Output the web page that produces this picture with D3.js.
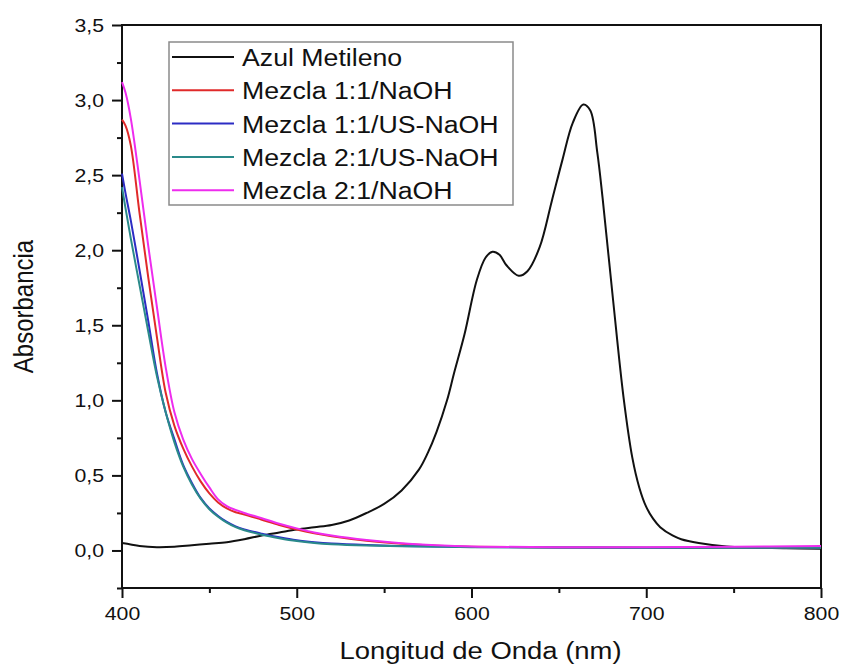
<!DOCTYPE html>
<html>
<head>
<meta charset="utf-8">
<script src="https://cdn.jsdelivr.net/npm/d3@7"></script>
<style>
	body { margin: 0; background: #fff; }
	text { font-family: "Liberation Sans", Arial, sans-serif; fill: #111; }
</style>
</head>
<body>
<div id="chart"></div>
<script>
'use strict'

// Azul de metileno (espectro propio)
var lambdaAzul = [400,405,410,420,430,440,450,460,470,480,490,500,510,520,530,540,550,560,570,575,580,586,590,596,603,608,612,616,620,627,632,639,646,652,658,664,668,672,675,681,687,692,696,700,704,708,715,720,730,746,760,780,800];
var absAzul = [0.05,0.04,0.03,0.022,0.025,0.035,0.045,0.055,0.075,0.1,0.12,0.14,0.155,0.17,0.2,0.25,0.31,0.4,0.54,0.65,0.79,1.0,1.18,1.44,1.8,1.95,1.99,1.97,1.9,1.83,1.86,2.02,2.33,2.6,2.85,2.97,2.93,2.65,2.35,1.67,1.02,0.62,0.42,0.29,0.21,0.155,0.1,0.075,0.05,0.027,0.02,0.015,0.012];

// Mezclas (misma rejilla de longitudes de onda)
var lambdaMezcla = [400,402,405,410,415,420,425,430,435,440,445,450,455,460,465,470,480,490,500,510,520,540,560,580,600,650,700,750,800];
var absM11NaOH = [2.87,2.83,2.7,2.25,1.82,1.42,1.05,0.83,0.68,0.56,0.46,0.38,0.32,0.28,0.255,0.24,0.205,0.17,0.14,0.115,0.095,0.065,0.045,0.032,0.025,0.02,0.018,0.018,0.02];
var absM11US = [2.51,2.38,2.2,1.87,1.53,1.18,0.92,0.74,0.57,0.45,0.35,0.28,0.23,0.19,0.16,0.14,0.112,0.088,0.068,0.055,0.046,0.036,0.03,0.026,0.023,0.02,0.018,0.02,0.02];
var absM21US = [2.42,2.28,2.08,1.77,1.46,1.16,0.92,0.72,0.56,0.44,0.345,0.275,0.225,0.185,0.155,0.135,0.105,0.082,0.063,0.05,0.042,0.033,0.028,0.025,0.022,0.02,0.018,0.018,0.018];
var absM21NaOH = [3.12,3.05,2.88,2.47,2.03,1.62,1.22,0.92,0.74,0.61,0.51,0.42,0.34,0.295,0.27,0.25,0.215,0.178,0.147,0.12,0.1,0.07,0.048,0.035,0.027,0.022,0.022,0.025,0.03];

var nombres = ["Azul Metileno", "Mezcla 1:1/NaOH", "Mezcla 1:1/US-NaOH", "Mezcla 2:1/US-NaOH", "Mezcla 2:1/NaOH"];
var colores = ["#111111", "#e02a2a", "#2c2cc4", "#2a8a8a", "#ee2cee"];

var xTicks = [400, 500, 600, 700, 800];
var yTicks = [0, 0.5, 1, 1.5, 2, 2.5, 3, 3.5];

var series = [
	{ x: lambdaAzul, y: absAzul },
	{ x: lambdaMezcla, y: absM11NaOH },
	{ x: lambdaMezcla, y: absM11US },
	{ x: lambdaMezcla, y: absM21US },
	{ x: lambdaMezcla, y: absM21NaOH }
];

var width = 841, height = 671;
var margin = { top: 25, right: 20, bottom: 83, left: 122 };
var sx = 1.12; // texto algo ensanchado como en la figura original

var svg = d3.select("#chart")
	.append("svg")
	.attr("width", width)
	.attr("height", height);

var x = d3.scaleLinear().domain([400, 800]).range([margin.left, width - margin.right]);
var y = d3.scaleLinear().domain([-0.25, 3.5]).range([height - margin.bottom, margin.top]);

var fmt = function(d){ return d3.format(".1f")(d).replace(".", ","); };

// Ejes: ticks menores
svg.append("g")
	.attr("transform", "translate(0," + y.range()[0] + ")")
	.call(d3.axisBottom(x).tickValues(d3.range(450, 800, 100)).tickSize(5).tickFormat(""))
	.call(g => g.select(".domain").remove())
	.selectAll("line").attr("stroke", "#111").attr("stroke-width", 2);

svg.append("g")
	.attr("transform", "translate(" + x.range()[0] + ",0)")
	.call(d3.axisLeft(y).tickValues(d3.range(-0.25, 3.5, 0.5)).tickSize(5).tickFormat(""))
	.call(g => g.select(".domain").remove())
	.selectAll("line").attr("stroke", "#111").attr("stroke-width", 2);

// Ejes: ticks mayores
var xAxis = svg.append("g")
	.attr("transform", "translate(0," + y.range()[0] + ")")
	.call(d3.axisBottom(x).tickValues(xTicks).tickSize(10).tickPadding(9).tickFormat(d3.format("d")));
xAxis.select(".domain").remove();
xAxis.selectAll("line").attr("stroke", "#111").attr("stroke-width", 2);
xAxis.selectAll("text")
	.style("font-size", "19px")
	.attr("transform", "scale(" + sx + ",1)");

var yAxis = svg.append("g")
	.attr("transform", "translate(" + x.range()[0] + ",0)")
	.call(d3.axisLeft(y).tickValues(yTicks).tickSize(10).tickPadding(8).tickFormat(fmt));
yAxis.select(".domain").remove();
yAxis.selectAll("line").attr("stroke", "#111").attr("stroke-width", 2);
yAxis.selectAll("text")
	.style("font-size", "19px")
	.attr("x", -18 / sx)
	.attr("transform", "scale(" + sx + ",1)");

// Marco
svg.append("rect")
	.attr("x", x.range()[0])
	.attr("y", y.range()[1])
	.attr("width", x.range()[1] - x.range()[0])
	.attr("height", y.range()[0] - y.range()[1])
	.attr("fill", "none")
	.attr("stroke", "#111")
	.attr("stroke-width", 2);

// Curvas
var line = d3.line()
	.x(function(d){ return x(d[0]); })
	.y(function(d){ return y(d[1]); })
	.curve(d3.curveCatmullRom.alpha(0.5));

svg.append("g")
	.selectAll("path")
	.data(series)
	.enter()
	.append("path")
		.attr("d", function(s){ return line(d3.zip(s.x, s.y)); })
		.attr("fill", "none")
		.attr("stroke", function(s, i){ return colores[i]; })
		.attr("stroke-width", 2)
		.attr("stroke-linejoin", "round");

// Leyenda
var leg = svg.append("g").attr("transform", "translate(169,42)");
leg.append("rect")
	.attr("width", 344)
	.attr("height", 163)
	.attr("fill", "#fff")
	.attr("stroke", "#8a8a8a")
	.attr("stroke-width", 1.5);

var filas = leg.selectAll("g.fila")
	.data(nombres)
	.enter()
	.append("g")
		.attr("class", "fila")
		.attr("transform", function(d, i){ return "translate(0," + (15 + i * 33.3) + ")"; });

filas.append("line")
	.attr("x1", 3).attr("x2", 65)
	.attr("stroke", function(d, i){ return colores[i]; })
	.attr("stroke-width", 2);

filas.append("text")
	.attr("transform", "translate(73,9) scale(1.09,1)")
	.style("font-size", "24.5px")
	.text(function(d){ return d; });

// Titulos de ejes
svg.append("text")
	.attr("transform", "translate(" + ((x.range()[0] + x.range()[1]) / 2 + 9) + ",659) scale(" + sx + ",1)")
	.attr("text-anchor", "middle")
	.style("font-size", "24.5px")
	.text("Longitud de Onda (nm)");

svg.append("text")
	.attr("transform", "translate(33," + ((y.range()[0] + y.range()[1]) / 2) + ") rotate(-90) scale(1," + sx + ")")
	.attr("text-anchor", "middle")
	.style("font-size", "24px")
	.text("Absorbancia");
</script>
</body>
</html>
